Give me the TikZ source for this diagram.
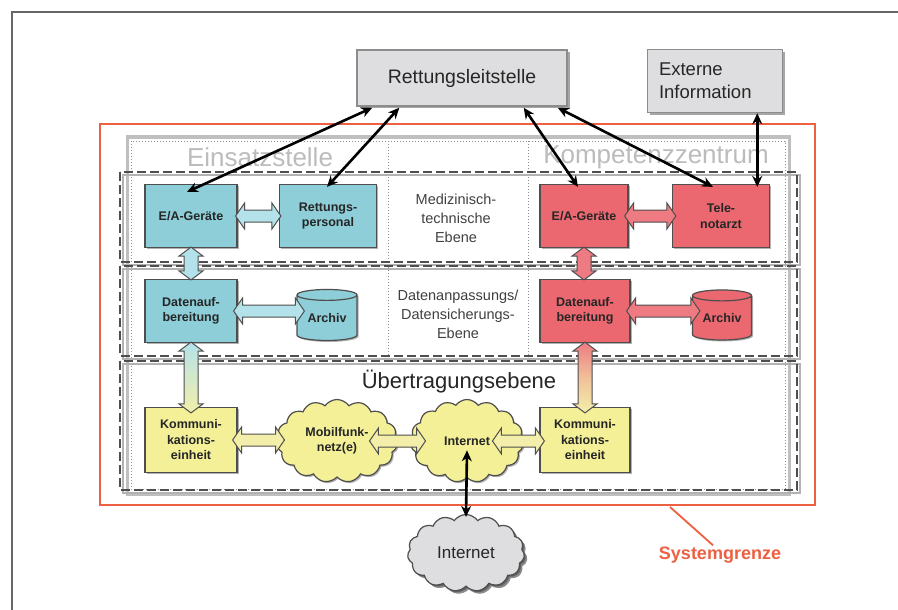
\documentclass[tikz,border=0pt]{standalone}
\usepackage{fontspec}
\setmainfont{Liberation Sans}
\usetikzlibrary{shapes.geometric,shapes.symbols,shadows,calc,arrows.meta}
\definecolor{blueN}{RGB}{141,206,216}
\definecolor{blueA}{RGB}{180,226,234}
\definecolor{redN}{RGB}{236,104,112}
\definecolor{redA}{RGB}{238,122,130}
\definecolor{yelN}{RGB}{244,240,152}
\definecolor{yelA}{RGB}{243,239,170}
\definecolor{sysred}{RGB}{238,96,66}
\definecolor{edgec}{RGB}{78,78,78}
\definecolor{greyN}{RGB}{222,222,224}
\definecolor{colgrey}{RGB}{188,188,188}
\newcommand\hdarrow[3]{\path[draw=edgec, line width=1pt, #3] let \p1=(#1), \p2=(#2) in
  (\x1,\y1) -- ++(9pt,13pt) -- ++(0pt,-7pt) -- (\x2-9pt,\y1+6pt) -- ++(0pt,7pt) -- (\x2,\y1)
  -- ++(-9pt,-13pt) -- ++(0pt,7pt) -- (\x1+9pt,\y1-6pt) -- ++(0pt,-7pt) -- cycle;}
\newcommand\vdarrow[3]{\path[draw=edgec, line width=1pt, #3] let \p1=(#1), \p2=(#2) in
  (\x1,\y1) -- ++(-12pt,-9pt) -- ++(5pt,0pt) -- (\x1-7pt,\y2+9pt) -- ++(-5pt,0pt) -- (\x1,\y2)
  -- ++(12pt,9pt) -- ++(-5pt,0pt) -- (\x1+7pt,\y1-9pt) -- ++(5pt,0pt) -- cycle;}
\begin{document}
\begin{tikzpicture}[x=1pt,y=-1pt,
  nbox/.style={draw=edgec, line width=1.2pt, inner sep=0pt, align=center,
    font=\bfseries\fontsize{12.5}{15.5}\selectfont, text=black!85,
    drop shadow={shadow xshift=1.5pt, shadow yshift=-1.5pt, opacity=0.3, fill=black}},
  gbox/.style={draw=black!45, line width=1.5pt, fill=greyN, inner sep=0pt,
    font=\fontsize{19.5}{23}\selectfont, text=black!85,
    drop shadow={shadow xshift=2.5pt, shadow yshift=-2.5pt, opacity=0.35, fill=black}},
  arch/.style={nbox, shape=cylinder, shape border rotate=90, aspect=0.28},
  cl/.style={nbox, shape=cloud, cloud puffs=15, cloud puff arc=110, aspect=1.45, fill=yelN},
  layer/.style={draw=edgec, line width=2.2pt, dash pattern=on 9pt off 4pt},
  layershadow/.style={draw=black!30, line width=1.5pt},
  coltext/.style={text=colgrey, font=\fontsize{26}{30}\selectfont},
  midtext/.style={text=black!75, align=center, font=\fontsize{14.5}{19}\selectfont},
  blk/.style={line width=2.6pt, black, {Stealth[length=11pt,width=10pt]}-{Stealth[length=11pt,width=10pt]}}
]
\useasboundingbox (0,0) rectangle (898,610);
\fill[white] (0,0) rectangle (898,610);
% outer frame of the figure
\draw[black!60, line width=2pt] (12,610) -- (12,12) -- (898,12);
% Systemgrenze
\draw[sysred, line width=2pt] (100,124) rectangle (815,505);
\coordinate (sgpt) at (670,507);
% column frame
\draw[black!25, line width=3pt] (127,137) rectangle (789,494);
\draw[black!45, line width=1pt, dotted] (131,141) rectangle (785,489);
\draw[black!45, line width=1pt, dotted] (388,141) -- (388,357);
\draw[black!45, line width=1pt, dotted] (528,141) -- (528,357);
% layers
\foreach \ya/\yb in {172/262, 266/356, 361/490} {
  \draw[layershadow] (123,\ya+3) rectangle (800,\yb+3);
  \draw[layer] (120,\ya) rectangle (797,\yb);
}
% column titles
\node[coltext] (einsatz) at (260,157) {Einsatzstelle};
\node[coltext] (kompetenz) at (656,157) {Kompetenzzentrum};
% level texts
\node[midtext] (medtech) at (456,218) {Medizinisch-\\technische\\Ebene};
\node[midtext] (datebene) at (458,314) {Datenanpassungs/\\Datensicherungs-\\Ebene};
\node[text=black!85, font=\fontsize{22}{26}\selectfont] (uebertr) at (459,382) {Übertragungsebene};
% top boxes
\node[gbox, minimum width=210pt, minimum height=56pt] (rls) at (462,78) {Rettungsleitstelle};
\node[gbox, minimum width=135pt, minimum height=63pt, align=left, text width=112pt,
  font=\fontsize{18.5}{23}\selectfont] (ext) at (715,81) {Externe\\Information};
% left column
\node[nbox, fill=blueN, minimum width=92pt, minimum height=63pt] (eiaL) at (191,216) {E/A-Geräte};
\node[nbox, fill=blueN, minimum width=97pt, minimum height=63pt] (rp) at (328,216) {Rettungs-\\personal};
\node[nbox, fill=blueN, minimum width=92pt, minimum height=63pt] (datL) at (191,311) {Datenauf-\\bereitung};
\node[arch, fill=blueN, minimum width=60pt, minimum height=51pt] (archL) at (327,318) {Archiv};
\node[nbox, fill=yelN, minimum width=92pt, minimum height=65pt] (kommL) at (191,440) {Kommuni-\\kations-\\einheit};
% right column
\node[nbox, fill=redN, minimum width=88pt, minimum height=63pt] (eiaR) at (584,216) {E/A-Geräte};
\node[nbox, fill=redN, minimum width=97pt, minimum height=63pt] (tele) at (721,216) {Tele-\\notarzt};
\node[nbox, fill=redN, minimum width=90pt, minimum height=63pt] (datR) at (585,311) {Datenauf-\\bereitung};
\node[arch, fill=redN, minimum width=59pt, minimum height=50pt] (archR) at (722,318) {Archiv};
\node[nbox, fill=yelN, minimum width=90pt, minimum height=65pt] (kommR) at (585,440) {Kommuni-\\kations-\\einheit};
% clouds
\node[cl, minimum width=121pt, minimum height=83pt] (mob) at (337,441) {Mobilfunk-\\netz(e)};
\node[cl, minimum width=113pt, minimum height=83pt] (inet) at (467,441) {Internet};
\node[cl, fill=greyN, font=\fontsize{17}{20}\selectfont, minimum width=117pt, minimum height=77pt,
  drop shadow={shadow xshift=3pt, shadow yshift=-3pt, opacity=0.45, fill=black}] (inetB) at (466,553) {Internet};
% block arrows
\hdarrow{[xshift=-2pt]eiaL.east}{[xshift=2pt]rp.west}{fill=blueA}
\vdarrow{[yshift=1pt]eiaL.south}{[yshift=-1pt]datL.north}{fill=blueA}
\hdarrow{[xshift=-4pt]datL.east}{[xshift=8pt]archL.west}{fill=blueA}
\vdarrow{[yshift=1pt]datL.south}{[yshift=-6pt]kommL.north}{top color=blueA, bottom color=yelA, middle color=yelA!50!blueA}
\hdarrow{[xshift=-5pt]kommL.east}{[xshift=8pt]mob.west}{fill=yelA}
\hdarrow{[xshift=-28pt]mob.east}{[xshift=15pt]inet.west}{fill=yelA}
\hdarrow{[xshift=-31pt]inet.east}{[xshift=5pt]kommR.west}{fill=yelA}
\hdarrow{[xshift=-4pt]eiaR.east}{[xshift=4pt]tele.west}{fill=redA}
\vdarrow{[yshift=1pt]eiaR.south}{[yshift=-1pt]datR.north}{fill=redA}
\hdarrow{[xshift=-4pt]datR.east}{[xshift=8pt]archR.west}{fill=redA}
\vdarrow{[yshift=1pt]datR.south}{[yshift=-6pt]kommR.north}{top color=redA, bottom color=yelA, middle color=yelA!60!redA}
% black arrows
\draw[blk] ([xshift=16pt,yshift=-1pt]rls.south west) -- ([xshift=-4pt,yshift=-8pt]eiaL.north);
\draw[blk] ([xshift=43pt,yshift=-1pt]rls.south west) -- ([xshift=-1pt,yshift=-3pt]rp.north);
\draw[blk] ([xshift=-44pt,yshift=-1pt]rls.south east) -- ([xshift=-6pt,yshift=-3pt]eiaR.north);
\draw[blk] ([xshift=-10pt,yshift=-1pt]rls.south east) -- ([xshift=-8pt,yshift=-3pt]tele.north);
\draw[blk] ([xshift=-26pt]ext.south east) -- ([xshift=-26pt,yshift=-3pt]ext.south east |- tele.north);
\draw[blk] ([yshift=28pt]inet.south) -- ([yshift=-3pt]inetB.north);
% Systemgrenze label
\node[text=sysred, font=\bfseries\fontsize{18}{22}\selectfont] (sg) at (720,555) {Systemgrenze};
\draw[sysred, line width=1.8pt] (sgpt) -- ([xshift=-7pt,yshift=-2pt]sg.north);
\end{tikzpicture}
\end{document}
